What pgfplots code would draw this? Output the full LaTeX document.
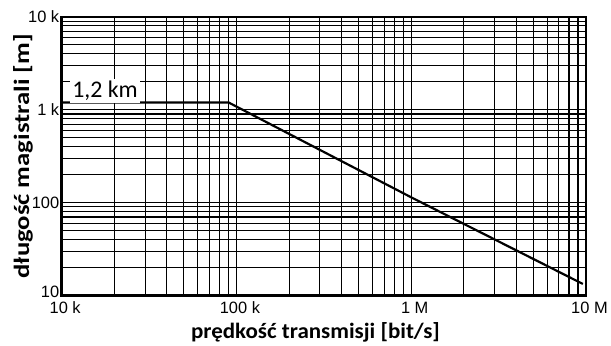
\documentclass[border=0pt]{standalone}
\usepackage{fontspec}
\setmainfont{Carlito}
\newfontfamily\tickfont{Liberation Sans}
\newcommand{\tl}[1]{\mbox{\tickfont\fontsize{16.5}{16.5}\selectfont #1}}
\usepackage{graphicx}
\usepackage{pgfplots}
\pgfplotsset{compat=1.18}
\begin{document}
\begin{tikzpicture}
\begin{loglogaxis}[
 scale only axis, width=527pt, height=280pt,
 xmin=1e4, xmax=1e7, ymin=10, ymax=1e4,
 xtick={1e4,1e5,1e6,1e7}, xticklabels={\tl{10 k},\tl{100 k},\tl{1 M},\tl{10 M}},
 ytick={10,100,1000,10000}, yticklabels={\tl{\raisebox{8pt}{10}},\tl{100},\tl{1 k},\tl{10 k}},
 minor xtick={2e4,3e4,4e4,5e4,6e4,7e4,8e4,9e4,2e5,3e5,4e5,5e5,6e5,7e5,8e5,9e5,2e6,3e6,4e6,5e6,6e6,7e6,8e6,9e6},
 minor ytick={20,30,40,50,60,70,80,90,200,300,400,500,600,700,800,900,2000,3000,4000,5000,6000,7000,8000,9000},
 grid=both,
 grid style={black, line width=1.1pt},
 major grid style={black, line width=1.1pt},
 minor grid style={black, line width=1.1pt},
 axis line style={line width=2.5pt},
 major tick length=0pt, minor tick length=0pt,
 /pgf/number format/assume math mode=true,
 xticklabel style={text=black, yshift=-3pt, xshift=3.5pt},
 yticklabel style={text=black, xshift=1pt},
 xlabel={\scalebox{1.05}[1]{prędkość transmisji [bit/s]}},
 ylabel={\scalebox{1.22}[1]{długość magistrali [m]}},
 xlabel style={font=\bfseries\fontsize{22}{22}\selectfont, text=black, at={(axis description cs:0.484,-0.132)}, anchor=center},
 ylabel style={font=\bfseries\fontsize{22}{22}\selectfont, text=black, at={(axis description cs:-0.074,0.5)}, rotate=0, anchor=center},
 clip=false,
]
\addplot[black, line width=2.2pt] coordinates {(1e4,1200) (9e4,1200) (1e6,114) (9.6e6,13.3)};
\node[fill=white, inner sep=2pt, font=\fontsize{24}{24}\selectfont] at (axis cs:17700,1600) {1,2 km};
\end{loglogaxis}
\path (current axis.south west) ++(-62pt,-45pt) coordinate (bbA);
\path (current axis.north east) ++(22pt,17pt) coordinate (bbB);
\path (bbA) rectangle (bbB);
\end{tikzpicture}
\end{document}
